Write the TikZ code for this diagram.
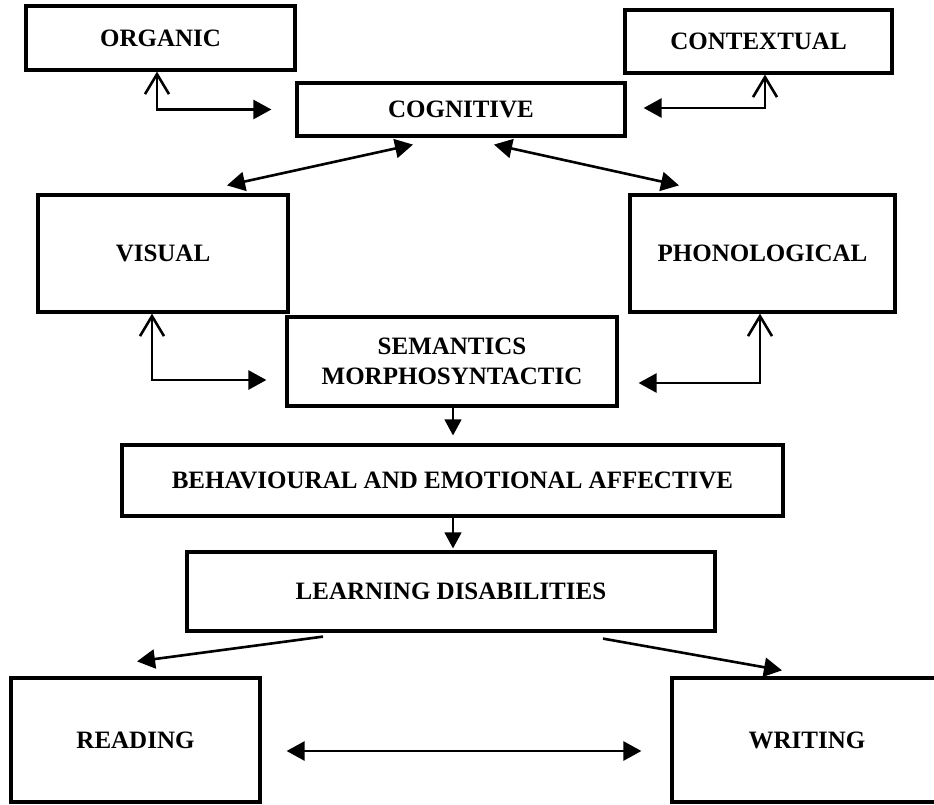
\documentclass[tikz,border=0pt]{standalone}
\usepackage{fontspec}
\setmainfont{Liberation Serif}
\usetikzlibrary{arrows.meta,calc}
\tikzset{
  ftri/.tip={Triangle[length=18pt,width=19pt]},
  obarb/.tip={Straight Barb[length=20pt,width=24pt]},
  smalltri/.tip={Triangle[length=16pt,width=17pt]},
}
\begin{document}
\begin{tikzpicture}[x=1pt,y=-1pt,
  box/.style={draw, line width=3.2pt, inner sep=0pt, align=center,
    font=\fontsize{25}{30}\selectfont\bfseries},
  conn/.style={line width=2.6pt},
  thinconn/.style={line width=1.2pt},
]
\fill[white] (0,0) rectangle (934,805);
\useasboundingbox (0,0) rectangle (934,805);

\node[box, minimum width=269pt, minimum height=64pt] (org) at (160.5,38) {ORGANIC};
\node[box, minimum width=328pt, minimum height=53pt] (cog) at (461,109.5) {COGNITIVE};
\node[box, minimum width=267pt, minimum height=63pt] (ctx) at (758.5,41.5) {CONTEXTUAL};
\node[box, minimum width=250pt, minimum height=117pt] (vis) at (163,253.5) {VISUAL};
\node[box, minimum width=265pt, minimum height=117pt] (phon) at (762.5,253.5) {PHONOLOGICAL};
\node[box, minimum width=330pt, minimum height=89pt] (sem) at (452,361.5) {SEMANTICS\\MORPHOSYNTACTIC};
\node[box, minimum width=661pt, minimum height=71pt] (beh) at (452.5,480.5) {BEHAVIOURAL AND EMOTIONAL AFFECTIVE};
\node[box, minimum width=528pt, minimum height=79pt] (lrn) at (451,591.5) {LEARNING DISABILITIES};
\node[box, minimum width=249pt, minimum height=124pt] (read) at (135.5,740) {READING};
\node[box, minimum width=270pt, minimum height=124pt] (wri) at (807,740) {WRITING};

\draw[conn, obarb-ftri] ($(org.south)+(-3.5,0)$) |- ($(cog.west)+(-24,0)$);
\draw[conn, obarb-ftri] ($(ctx.south)+(6.5,0)$) |- ($(cog.east)+(17,-1.5)$);
\draw[conn, ftri-ftri] ($(cog.south)+(-48,7)$) -- ($(vis.north)+(64,-8)$);
\draw[conn, ftri-ftri] ($(cog.south)+(33,7)$) -- ($(phon.north)+(-83.5,-8)$);
\draw[conn, obarb-ftri] ($(vis.south)+(-11,0)$) |- ($(sem.west)+(-19,18.5)$);
\draw[conn, obarb-ftri] ($(phon.south)+(-2.5,0)$) |- ($(sem.east)+(20,21.5)$);
\draw[thinconn, -smalltri] ($(sem.south)+(1,0)$) -- ($(beh.north)+(0.5,-8)$);
\draw[thinconn, -smalltri] ($(beh.south)+(0.5,0)$) -- ($(beh.south |- lrn.north)+(0.5,-2)$);
\draw[conn, -ftri] ($(lrn.south)+(-128,4)$) -- ($(read.north)+(1.5,-15)$);
\draw[conn, -ftri] ($(lrn.south)+(152,6)$) -- ($(wri.north)+(-25,-6)$);
\draw[conn, ftri-ftri] ($(read.east)+(25,11)$) -- ($(wri.west)+(-29,11)$);
\end{tikzpicture}
\end{document}
